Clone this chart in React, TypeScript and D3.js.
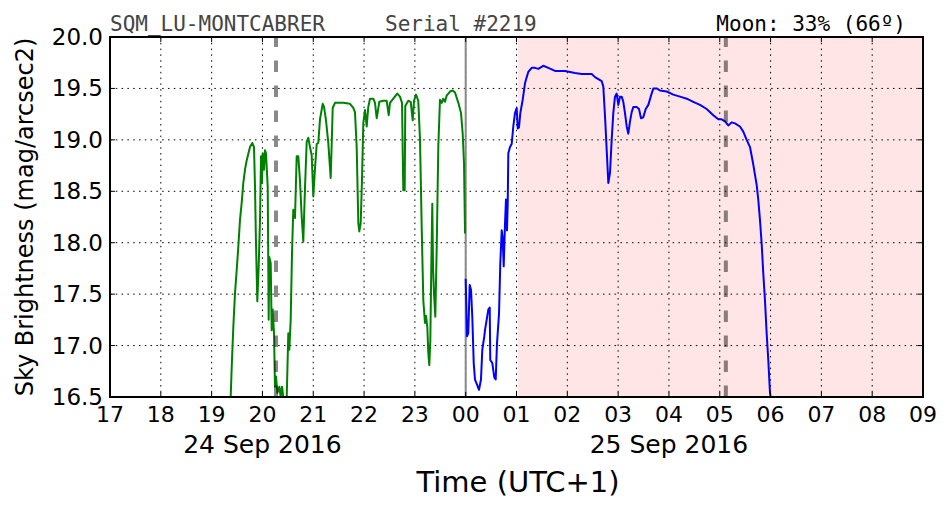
import React from "react";
import * as d3 from "d3";

// Hours since 00:00 of 24 Sep 2016 (values > 24 belong to 25 Sep)
const hourTicks = [17, 18, 19, 20, 21, 22, 23, 24, 25, 26, 27, 28, 29, 30, 31, 32, 33];
const hourTickLabels = ["17", "18", "19", "20", "21", "22", "23", "00", "01", "02", "03", "04", "05", "06", "07", "08", "09"];
const yTicks = [16.5, 17.0, 17.5, 18.0, 18.5, 19.0, 19.5, 20.0];
const dateLabels = [
  { hour: 20, text: "24 Sep 2016" },
  { hour: 28, text: "25 Sep 2016" },
];

const eveningTime = [
  19.375, 19.395, 19.427, 19.46, 19.493, 19.525, 19.558, 19.592, 19.623, 19.657, 19.69, 19.755, 19.8, 19.834,
  19.854, 19.873, 19.899, 19.926, 19.952, 19.972, 19.991, 20.005, 20.031, 20.05, 20.07, 20.104, 20.123, 20.135,
  20.163, 20.182, 20.202, 20.228, 20.247, 20.267, 20.293, 20.332, 20.359, 20.385, 20.411, 20.478, 20.509, 20.529,
  20.556, 20.582, 20.607, 20.641, 20.674, 20.706, 20.739, 20.773, 20.804, 20.838, 20.871, 20.902, 20.936, 20.969,
  21.001, 21.034, 21.068, 21.099, 21.133, 21.186, 21.212, 21.251, 21.296, 21.343, 21.369, 21.383, 21.428, 21.591,
  21.723, 21.788, 21.821, 21.855, 21.887, 21.906, 21.934, 21.959, 21.985, 22.018, 22.052, 22.083, 22.117, 22.182,
  22.215, 22.249, 22.3, 22.378, 22.445, 22.485, 22.51, 22.575, 22.654, 22.707, 22.747, 22.772, 22.8, 22.811,
  22.87, 22.918, 22.957, 22.983, 23.022, 23.067, 23.101, 23.134, 23.166, 23.199, 23.219, 23.245, 23.264, 23.284,
  23.304, 23.323, 23.343, 23.357, 23.376, 23.402, 23.43, 23.461, 23.494, 23.528, 23.559, 23.593, 23.626, 23.691,
  23.744, 23.79, 23.855, 23.908, 23.941, 23.967, 23.987,
];
const eveningValue = [
  16.5, 16.79, 17.18, 17.51, 17.73, 17.96, 18.22, 18.39, 18.58, 18.71, 18.8, 18.93, 18.97, 18.93,
  18.54, 18.0, 17.43, 17.77, 18.22, 18.84, 18.58, 18.87, 18.71, 18.9, 18.87, 18.54, 17.25, 17.86,
  17.8, 17.15, 17.35, 17.12, 16.6, 16.7, 16.54, 16.6, 16.5, 16.6, 16.5, 16.5, 17.12, 16.96,
  17.25, 17.9, 18.32, 18.24, 18.84, 18.84, 18.6, 18.25, 18.01, 18.54, 18.98, 19.02, 18.93, 18.85,
  18.45, 18.72, 18.96, 18.97, 19.2, 19.35, 19.32, 19.19, 18.97, 18.63, 19.06, 19.31, 19.36, 19.36,
  19.35, 19.31, 19.27, 18.93, 18.19, 18.11, 18.19, 18.61, 19.16, 19.29, 19.13, 19.32, 19.4, 19.4,
  19.36, 19.21, 19.37, 19.38, 19.38, 19.24, 19.36, 19.4, 19.45, 19.42, 19.36, 18.51, 18.51, 19.33,
  19.38, 19.37, 19.19, 19.38, 19.44, 19.38, 19.0, 18.16, 17.44, 17.22, 17.29, 17.18, 16.93, 16.81,
  17.05, 17.77, 18.38, 17.77, 17.51, 17.28, 17.96, 18.93, 19.39, 19.36, 19.4, 19.37, 19.43, 19.47,
  19.48, 19.46, 19.36, 19.26, 19.06, 18.77, 18.09,
];

const morningTime = [
  24.0, 24.026, 24.051, 24.079, 24.105, 24.13, 24.158, 24.183, 24.223, 24.262, 24.301, 24.327, 24.366, 24.38,
  24.413, 24.445, 24.473, 24.484, 24.524, 24.563, 24.591, 24.616, 24.656, 24.681, 24.709, 24.728, 24.748, 24.774,
  24.793, 24.813, 24.827, 24.839, 24.872, 24.905, 24.937, 24.97, 25.004, 25.024, 25.049, 25.075, 25.122, 25.167,
  25.201, 25.232, 25.299, 25.364, 25.429, 25.527, 25.626, 25.758, 25.955, 26.151, 26.283, 26.48, 26.545, 26.61,
  26.677, 26.708, 26.742, 26.775, 26.807, 26.84, 26.873, 26.905, 26.938, 26.972, 27.003, 27.037, 27.07, 27.102,
  27.135, 27.169, 27.2, 27.234, 27.267, 27.299, 27.366, 27.411, 27.45, 27.495, 27.543, 27.594, 27.641, 27.692,
  27.759, 27.824, 27.956, 28.086, 28.218, 28.35, 28.479, 28.611, 28.743, 28.873, 28.971, 29.038, 29.103, 29.168,
  29.235, 29.3, 29.398, 29.463, 29.53, 29.595, 29.66, 29.727, 29.758, 29.792, 29.825, 29.857, 29.89, 29.923,
  29.955, 29.989, 30.008,
];
const morningValue = [
  17.65, 17.09, 17.12, 17.59, 17.54, 17.28, 16.83, 16.67, 16.62, 16.57, 16.67, 16.96, 17.09, 17.15,
  17.25, 17.35, 17.37, 16.86, 16.83, 16.69, 16.67, 17.02, 17.31, 17.8, 18.12, 18.05, 17.77, 18.19,
  18.42, 18.12, 18.38, 18.87, 18.93, 18.96, 19.13, 19.26, 19.31, 19.11, 19.12, 19.26, 19.39, 19.55,
  19.61, 19.66, 19.7, 19.7, 19.69, 19.72, 19.7, 19.67, 19.67, 19.65, 19.64, 19.64, 19.61, 19.59,
  19.57, 19.52, 19.23, 18.9, 18.58, 18.68, 19.0, 19.26, 19.42, 19.45, 19.34, 19.42, 19.42, 19.37,
  19.26, 19.13, 19.06, 19.18, 19.27, 19.32, 19.32, 19.3, 19.21, 19.22, 19.3, 19.34, 19.42, 19.5,
  19.5, 19.48, 19.47, 19.44, 19.42, 19.4, 19.37, 19.34, 19.3, 19.24, 19.2, 19.2, 19.18, 19.14,
  19.17, 19.16, 19.13, 19.08, 19.0, 18.93, 18.76, 18.56, 18.42, 18.22, 17.99, 17.7, 17.44, 17.12,
  16.86, 16.54, 16.47,
];

const sunEvents = [20.267, 29.12]; // dashed markers
const midnightHour = 24;
const daylightSpan = [25.03, 33];

const W = 952;
const H = 512;
const M = { left: 110, right: 923, top: 37, bottom: 397 };

export default function App() {
  const x = d3.scaleLinear().domain([17, 33]).range([M.left, M.right]);
  const y = d3.scaleLinear().domain([16.5, 20.0]).range([M.bottom, M.top]);

  const eveningPts: [number, number][] = eveningTime.map((t, i) => [t, eveningValue[i]]);
  const morningPts: [number, number][] = morningTime.map((t, i) => [t, morningValue[i]]);
  const line = d3
    .line<[number, number]>()
    .x((d) => x(d[0]))
    .y((d) => y(d[1]));

  const tickFont = "DejaVu Sans, sans-serif";
  const mono = "DejaVu Sans Mono, monospace";

  return (
    <svg
      width={W}
      height={H}
      style={{ position: "absolute", left: 0, top: 0, background: "#fff" }}
    >
      <defs>
        <clipPath id="plotClip">
          <rect x={M.left} y={M.top} width={M.right - M.left} height={M.bottom - M.top} />
        </clipPath>
      </defs>
      <rect x={0} y={0} width={W} height={H} fill="#fff" />
      {/* daylight span */}
      <rect
        x={x(daylightSpan[0])}
        y={M.top}
        width={x(daylightSpan[1]) - x(daylightSpan[0])}
        height={M.bottom - M.top}
        fill="rgb(255,229,229)"
      />
      {/* grid */}
      <g stroke="#000" strokeWidth={1} strokeDasharray="1.5,4.3">
        {hourTicks.slice(1, -1).map((h) => (
          <line key={"gx" + h} x1={x(h)} x2={x(h)} y1={M.top} y2={M.bottom} />
        ))}
        {yTicks.slice(1, -1).map((v) => (
          <line key={"gy" + v} x1={M.left} x2={M.right} y1={y(v)} y2={y(v)} />
        ))}
      </g>
      {/* midnight */}
      <line
        x1={x(midnightHour)}
        x2={x(midnightHour)}
        y1={M.top}
        y2={M.bottom}
        stroke="#888"
        strokeWidth={2}
      />
      <g clipPath="url(#plotClip)" fill="none" strokeWidth={2} strokeLinejoin="round">
        <path d={line(eveningPts) || ""} stroke="#008000" />
        <path d={line(morningPts) || ""} stroke="#0000ff" />
      </g>
      {/* sun events */}
      {sunEvents.map((h) => (
        <line
          key={"s" + h}
          x1={x(h)}
          x2={x(h)}
          y1={M.bottom}
          y2={M.top}
          stroke="rgb(20,20,20)"
          strokeOpacity={0.5}
          strokeWidth={4}
          strokeDasharray="11.5,13.5"
        />
      ))}
      {/* ticks */}
      <g stroke="#000" strokeWidth={1}>
        {hourTicks.map((h) => (
          <g key={"t" + h}>
            <line x1={x(h)} x2={x(h)} y1={M.bottom} y2={M.bottom - 5} />
            <line x1={x(h)} x2={x(h)} y1={M.top} y2={M.top + 5} />
          </g>
        ))}
        {yTicks.map((v) => (
          <g key={"ty" + v}>
            <line x1={M.left} x2={M.left + 5} y1={y(v)} y2={y(v)} />
            <line x1={M.right} x2={M.right - 5} y1={y(v)} y2={y(v)} />
          </g>
        ))}
      </g>
      {/* frame */}
      <rect
        x={M.left}
        y={M.top}
        width={M.right - M.left}
        height={M.bottom - M.top}
        fill="none"
        stroke="#000"
        strokeWidth={2}
      />
      {/* x tick labels */}
      <g fontFamily={tickFont} fontSize={22} textAnchor="middle" fill="#000">
        {hourTicks.map((h, i) => (
          <text key={"xl" + h} x={x(h)} y={M.bottom + 25}>
            {hourTickLabels[i]}
          </text>
        ))}
      </g>
      <g fontFamily={tickFont} fontSize={25} textAnchor="middle" fill="#000">
        {dateLabels.map((d) => (
          <text key={d.text} x={x(d.hour)} y={453}>
            {d.text}
          </text>
        ))}
      </g>
      {/* y tick labels */}
      <g fontFamily={tickFont} fontSize={23} textAnchor="end" fill="#000">
        {yTicks.map((v) => (
          <text key={"yl" + v} x={M.left - 7} y={y(v) + 8}>
            {d3.format(".1f")(v)}
          </text>
        ))}
      </g>
      <text
        fontFamily={tickFont}
        fontSize={24}
        textAnchor="middle"
        transform={`translate(33,${(M.top + M.bottom) / 2}) rotate(-90)`}
      >
        Sky Brightness (mag/arcsec2)
      </text>
      <text fontFamily={tickFont} fontSize={29} textAnchor="middle" x={518} y={492}>
        Time (UTC+1)
      </text>
      {/* header */}
      <text fontFamily={mono} fontSize={21} fill="#444" x={M.left} y={31}>
        SQM_LU-MONTCABRER
      </text>
      <text fontFamily={mono} fontSize={21} fill="#444" x={385} y={31}>
        Serial #2219
      </text>
      <text fontFamily={mono} fontSize={21} fill="#000" x={906} y={31} textAnchor="end">
        Moon: 33% (66º)
      </text>
    </svg>
  );
}
